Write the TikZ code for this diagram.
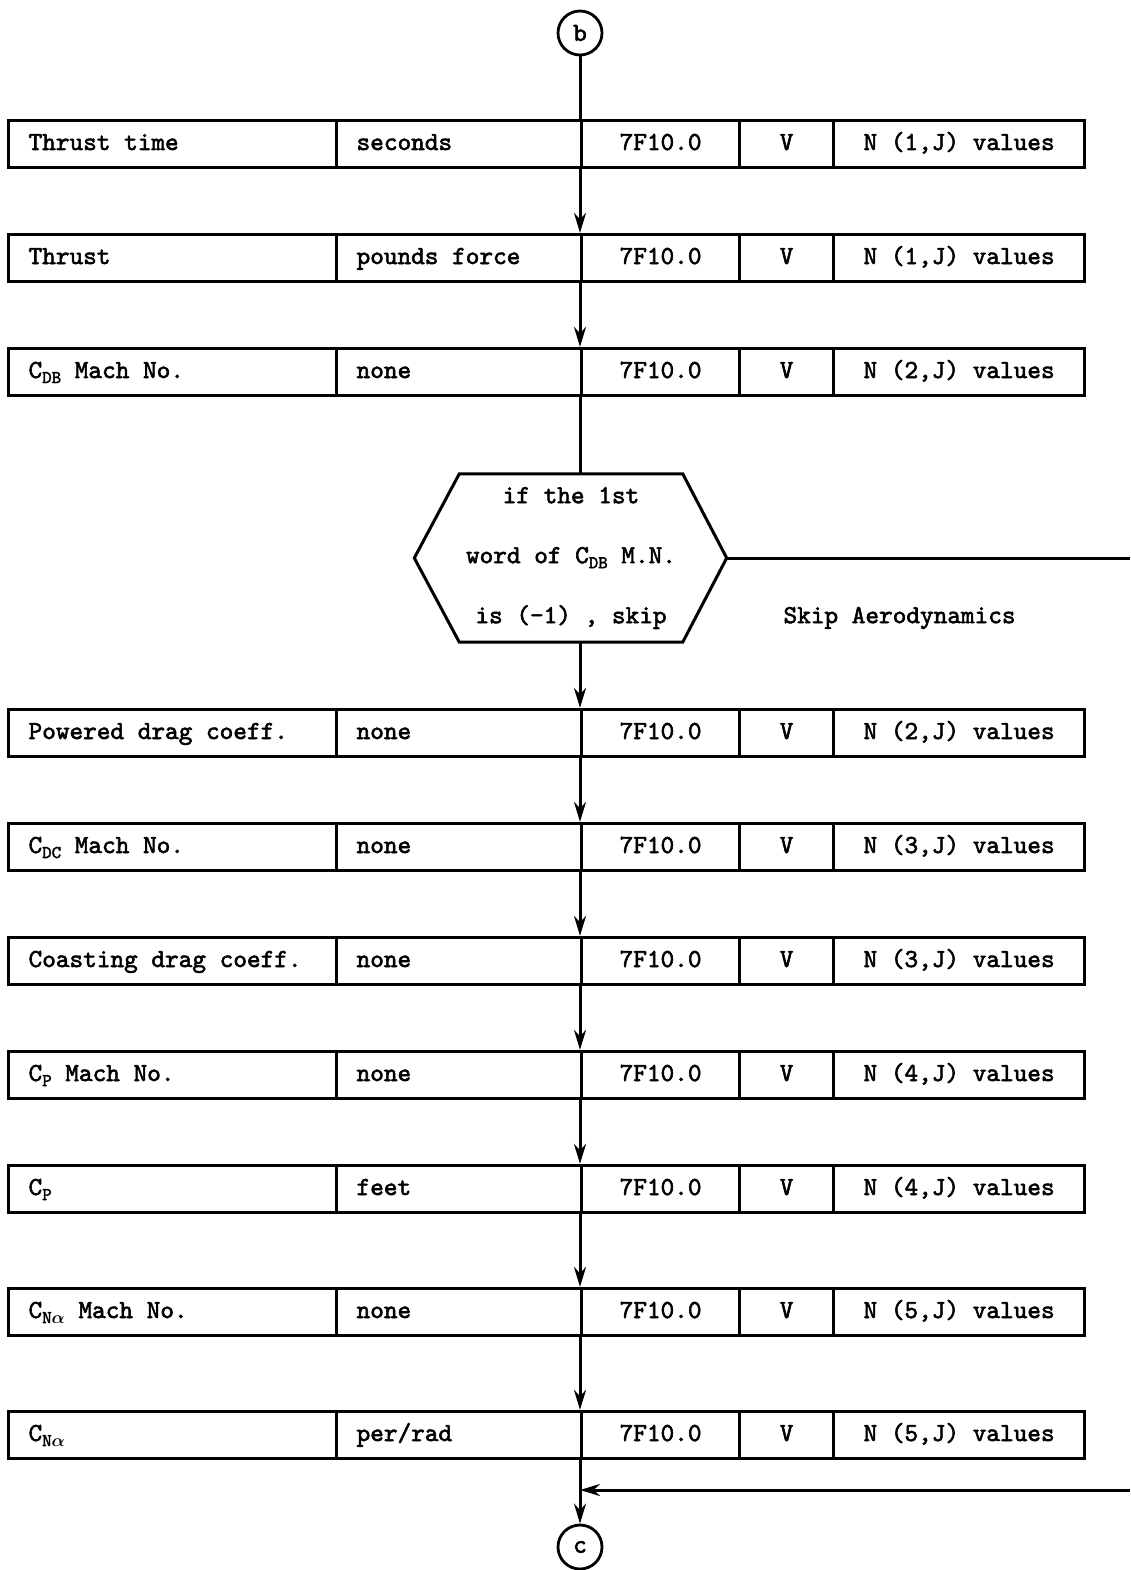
\documentclass[tikz,border=0pt]{standalone}
\usepackage{fontspec}
\usetikzlibrary{arrows.meta,calc}
\newfontfamily\tw{lmmono10-regular.otf}[FakeBold=2.2]
\newcommand\sbs[1]{\raisebox{-0.45ex}{\fontsize{18}{18}\selectfont #1}}
\newcommand\alp{{\boldmath$\alpha$}}
\newcommand\flowrow[7]{%
  \node[cellL] (#1a) at (7,#2) {\makebox[288pt][l]{#3}};
  \node[cellL] (#1b) at (335,#2) {\makebox[205pt][l]{#4}};
  \node[cellC, minimum width=158pt] (#1c) at (580,#2) {#5};
  \node[cellC, minimum width=94pt] (#1d) at (738,#2) {#6};
  \node[cellC, minimum width=251pt] (#1e) at (832,#2) {#7};
}
\tikzset{
  every node/.style={font=\tw\fontsize{26}{28}\selectfont},
  cellL/.style={draw, line width=3.2pt, minimum height=47pt, text height=17pt, text depth=5pt, inner xsep=20pt, inner ysep=0pt, anchor=west},
  cellC/.style={draw, line width=3.2pt, minimum height=47pt, text height=17pt, text depth=5pt, inner sep=0pt, anchor=west},
  conn/.style={draw, circle, line width=2.8pt, minimum size=44pt, inner sep=0pt},
  flow/.style={line width=3pt},
  arr/.style={flow, -{Stealth[length=20pt,width=12pt]}},
}
\begin{document}
\begin{tikzpicture}[x=1pt,y=-1pt]
\useasboundingbox (0,0) rectangle (1130,1570);
\node[conn] (b) at (580,33) {b};
\flowrow{r1}{144}{Thrust time}{seconds}{7F10.0}{V}{N (1,J) values}
\flowrow{r2}{258}{Thrust}{pounds force}{7F10.0}{V}{N (1,J) values}
\flowrow{r3}{372}{C\sbs{DB} Mach No.}{none}{7F10.0}{V}{N (2,J) values}
\node[minimum width=223pt, minimum height=168pt, inner sep=0pt, align=center] (hex) at (571,558)
  {if the 1st\\[32pt] word of C\sbs{DB} M.N.\\[32pt] is (-1) , skip};
\coordinate (hexR) at ([xshift=44pt]hex.east);
\coordinate (hexL) at ([xshift=-45pt]hex.west);
\draw[flow] (hex.north west) -- (hex.north east) -- (hexR) -- (hex.south east) -- (hex.south west) -- (hexL) -- cycle;
\node[anchor=west] (skip) at (780,618) {Skip Aerodynamics};
\flowrow{r4}{733}{Powered drag coeff.}{none}{7F10.0}{V}{N (2,J) values}
\flowrow{r5}{847}{C\sbs{DC} Mach No.}{none}{7F10.0}{V}{N (3,J) values}
\flowrow{r6}{961}{Coasting drag coeff.}{none}{7F10.0}{V}{N (3,J) values}
\flowrow{r7}{1075}{C\sbs{P} Mach No.}{none}{7F10.0}{V}{N (4,J) values}
\flowrow{r8}{1189}{C\sbs{P}}{feet}{7F10.0}{V}{N (4,J) values}
\flowrow{r9}{1312}{C\sbs{N\alp} Mach No.}{none}{7F10.0}{V}{N (5,J) values}
\flowrow{r10}{1435}{C\sbs{N\alp}}{per/rad}{7F10.0}{V}{N (5,J) values}
\node[conn] (c) at (580,1547) {c};
\coordinate (e1) at (1130,558);
\coordinate (e2) at (1130,1490);
\coordinate (j) at (580,1490);
% connectors
\draw[flow] (b) -- (r1c.north west);
\draw[arr] (r1c.south west) -- (r2c.north west);
\draw[arr] (r2c.south west) -- (r3c.north west);
\draw[flow] (r3c.south west) -- (r3c.south west |- hex.north);
\draw[arr] (r4c.north west |- hex.south) -- (r4c.north west);
\draw[arr] (r4c.south west) -- (r5c.north west);
\draw[arr] (r5c.south west) -- (r6c.north west);
\draw[arr] (r6c.south west) -- (r7c.north west);
\draw[arr] (r7c.south west) -- (r8c.north west);
\draw[arr] (r8c.south west) -- (r9c.north west);
\draw[arr] (r9c.south west) -- (r10c.north west);
\draw[arr] (r10c.south west) -- (c);
\draw[flow] (hexR) -- (e1);
\draw[arr] (e2) -- (j);
\end{tikzpicture}
\end{document}
